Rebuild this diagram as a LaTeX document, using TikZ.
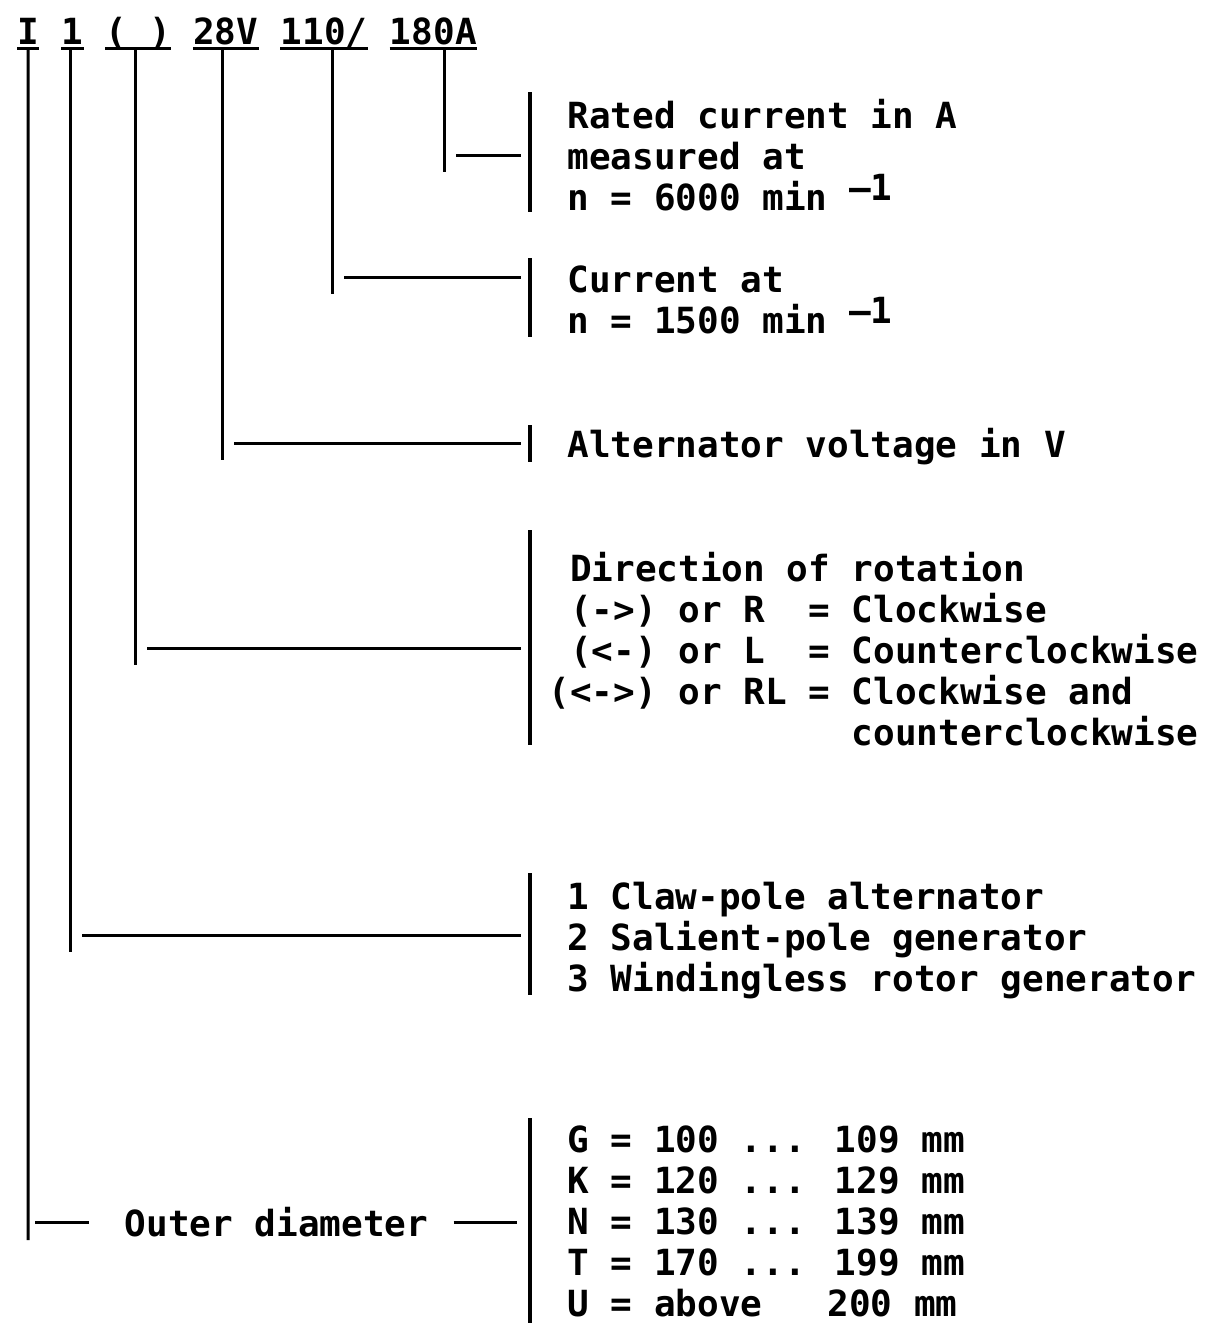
\documentclass[tikz,border=0pt]{standalone}
\usepackage{fontspec}
\newfontfamily\plate{DejaVu Sans Mono}
\usetikzlibrary{positioning,calc}

\begin{document}
\begin{tikzpicture}[x=0.5pt,y=-0.5pt,
 rule/.style={line width=1.5pt},
 bar/.style={line width=2pt},
 code/.style={inner sep=0pt,font=\plate\bfseries\fontsize{18pt}{20.5pt}\selectfont},
 legend/.style={code,anchor=base west,align=left},
 node distance=10.85pt]
\useasboundingbox (0,0) rectangle (1206,1323);
% type code
\node[code,anchor=base west] (hI) at (17,44) {I};
\node[code,base right=of hI] (h1) {1};
\node[code,base right=of h1] (hrot) {(~)};
\node[code,base right=of hrot] (hvolt) {28V};
\node[code,base right=of hvolt] (hlow) {110/};
\node[code,base right=of hlow] (hhigh) {180A};
\foreach \n in {hI,h1,hrot,hvolt,hlow,hhigh}
 \draw[rule] ($(\n.base west)+(0,4)$) -- ($(\n.base east)+(0,4)$);
% explanations (anchored at the last line)
\node[legend] (rated) at (567,210) {Rated current in A\\measured at\\n = 6000 min \raisebox{5pt}{–1}};
\node[legend] (cur) at (567,333) {Current at\\n = 1500 min \raisebox{5pt}{–1}};
\node[legend] (volt) at (567,457) {Alternator voltage in V};
\node[legend] (dir) at (548,745) {~Direction of rotation\\~(->) or R~~= Clockwise\\~(<-) or L~~= Counterclockwise\\(<->) or RL = Clockwise and\\\phantom{(<->) or RL = }counterclockwise};
\node[legend] (kind) at (567,991) {1 Claw-pole alternator\\2 Salient-pole generator\\3 Windingless rotor generator};
\node[legend] (size) at (567,1316) {G = 100 ... 109 mm\\K = 120 ... 129 mm\\N = 130 ... 139 mm\\T = 170 ... 199 mm\\U = above~~~200 mm};
\node[code,anchor=base] (outer) at (276.5,1236) {Outer diameter};
% bars
\foreach \t/\b [count=\i] in {92/212,258/337,425/462,530/745,873/995,1118/1323} {
 \coordinate (top\i) at (530,\t);
 \coordinate (bot\i) at (530,\b);
 \draw[bar] (top\i) -- (bot\i);
}
% leaders
\foreach \n/\x/\y [count=\i] in {hhigh/444/155,hlow/332/277,hvolt/222/443,hrot/135/648,h1/70/935} {
 \coordinate (tap\i) at (\x,\y);
 \draw[rule] ($(\n.base -| tap\i)+(0,4)$) -- ($(tap\i)+(0,17)$);
 \draw[rule] ($(tap\i)+(12,0)$) -- ($(tap\i -| top\i)+(-9,0)$);
}
\coordinate (tap6) at (28,1222);
\draw[rule] ($(hI.base)+(0,4)$) -- ($(tap6)+(0,18)$);
\draw[rule] ($(tap6)+(7,0)$) -- ($(outer.west |- tap6)+(-35,0)$);
\draw[rule] ($(outer.east |- tap6)+(25,0)$) -- ($(tap6 -| top6)+(-13,0)$);
\end{tikzpicture}
\end{document}
